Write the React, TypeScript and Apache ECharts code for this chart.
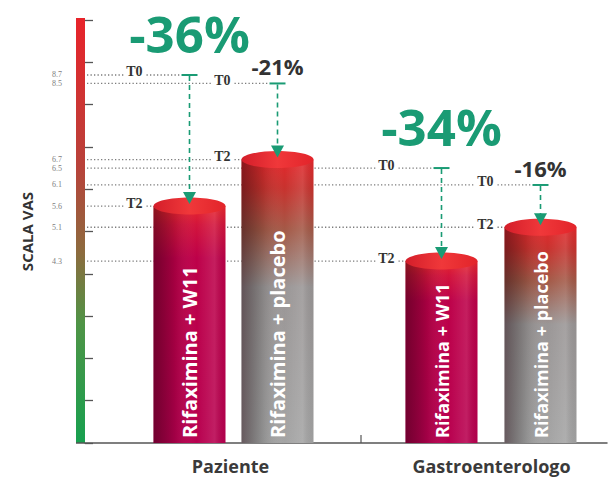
import React, { useEffect, useRef } from 'react';
import * as echarts from 'echarts';

// ---- data ----
const categories = ['Paziente', 'Gastroenterologo'];
const treatments = ['Rifaximina + W11', 'Rifaximina + placebo'];
const t0W11 = [8.7, 6.5];
const t2W11 = [5.6, 4.3];
const t0Placebo = [8.5, 6.1];
const t2Placebo = [6.7, 5.1];
const changeW11 = ['-36%', '-34%'];
const changePlacebo = ['-21%', '-16%'];
const timeLabels = ['T0', 'T2'];
const yMin = 0;
const yMax = 10;
const yInterval = 1;

// ---- layout / style constants ----
const GREEN = '#1a9b74';
const BAR_W = 72;
const SHIFT = 15;
// per category, per treatment horizontal offset of the bar centre from the shifted band centre
const OFFSETS = [
  [-41, 47],
  [-50, 49],
];
const BAR_TEXT_SIZE = [20, 18];
const PCT_SIZE = [51, 22];
const PCT_COLOR = [GREEN, '#333333'];
const PCT_DY = [-42, -17];

const t0s = [t0W11, t0Placebo];
const t2s = [t2W11, t2Placebo];
const changes = [changeW11, changePlacebo];

const lg = (x2: number, y2: number, stops: [number, string][]) =>
  new echarts.graphic.LinearGradient(0, 0, x2, y2, stops.map(([offset, color]) => ({ offset, color })));

const bodyGrad = (tr: number) =>
  tr === 0
    ? lg(0, 1, [[0, '#e8262c'], [0.08, '#d2143c'], [0.22, '#bd0049'], [1, '#b8004f']])
    : lg(0, 1, [[0, '#e3282c'], [0.1, '#c8322e'], [0.25, '#a35a48'], [0.45, '#9a9696'], [1, '#a4a4a4']]);

const shadeGrad = () =>
  lg(1, 0, [
    [0, 'rgba(30,0,10,0.45)'],
    [0.3, 'rgba(0,0,0,0.12)'],
    [0.6, 'rgba(255,255,255,0)'],
    [0.85, 'rgba(255,255,255,0.12)'],
    [1, 'rgba(0,0,0,0.04)'],
  ]);

const topGrad = () => lg(1, 0, [[0, '#d41e2a'], [0.5, '#f0383a'], [1, '#e2242a']]);

// guide data: [cat, value, treatment, kind]
const guideData: number[][] = [];
categories.forEach((_, c) => {
  [0, 1].forEach((tr) => {
    guideData.push([c, t0s[tr][c], tr, 0]);
    guideData.push([c, t2s[tr][c], tr, 1]);
  });
});

const makeCylinder = (tr: number) => (params: any, api: any) => {
  const cat = api.value(0);
  const t2 = api.value(1);
  const t0 = api.value(2);
  const top = api.coord([cat, t2]);
  const base = api.coord([cat, 0]);
  const p0 = api.coord([cat, t0]);
  const cx = top[0] + SHIFT + OFFSETS[cat][tr];
  const left = cx - BAR_W / 2;
  const yTop = top[1];
  const yBase = base[1];
  const yT0 = p0[1];
  return {
    type: 'group',
    children: [
      { type: 'rect', shape: { x: left, y: yTop, width: BAR_W, height: yBase - yTop }, style: { fill: bodyGrad(tr) } },
      { type: 'rect', shape: { x: left, y: yTop, width: BAR_W, height: yBase - yTop }, style: { fill: shadeGrad() } },
      { type: 'ellipse', shape: { cx, cy: yTop, rx: BAR_W / 2, ry: 8.5 }, style: { fill: topGrad() } },
      {
        type: 'text',
        x: cx,
        y: yBase - 5,
        rotation: Math.PI / 2,
        style: {
          text: treatments[tr],
          fill: '#ffffff',
          fontSize: BAR_TEXT_SIZE[cat],
          fontWeight: 'bold',
          fontFamily: '"Open Sans"',
          align: 'left',
          verticalAlign: 'middle',
        },
      },
      {
        type: 'line',
        shape: { x1: cx, y1: yT0 + 1, x2: cx, y2: yTop - 13 },
        style: { stroke: GREEN, lineWidth: 1.6, lineDash: [5, 4] },
      },
      {
        type: 'line',
        shape: { x1: cx - 8, y1: yT0, x2: cx + 8, y2: yT0 },
        style: { stroke: GREEN, lineWidth: 2 },
      },
      {
        type: 'polygon',
        shape: { points: [[cx - 6.5, yTop - 14], [cx + 6.5, yTop - 14], [cx, yTop - 2]] },
        style: { fill: GREEN },
      },
      {
        type: 'text',
        x: cx,
        y: yT0 + PCT_DY[tr],
        style: {
          text: changes[tr][cat],
          fill: PCT_COLOR[tr],
          fontSize: PCT_SIZE[tr],
          lineHeight: Math.round(PCT_SIZE[tr] * 0.8),
          fontWeight: 'bold',
          fontFamily: '"Open Sans"',
          align: 'center',
          verticalAlign: 'middle',
        },
      },
    ],
  };
};

const renderGuide = (params: any, api: any) => {
  const cat = api.value(0);
  const v = api.value(1);
  const tr = api.value(2);
  const kind = api.value(3);
  const p = api.coord([cat, v]);
  const cx = p[0] + SHIFT + OFFSETS[cat][tr];
  const left = cx - BAR_W / 2;
  const y = p[1];
  const axisX = params.coordSys.x;
  const ls = { stroke: '#7c7c7c', lineWidth: 1.3, lineDash: [1.3, 2.2] };
  const labelRight = left - 11;
  return {
    type: 'group',
    children: [
      { type: 'line', shape: { x1: axisX + 2, y1: y, x2: labelRight - 19, y2: y }, style: ls },
      { type: 'line', shape: { x1: labelRight + 4, y1: y, x2: kind === 0 ? cx - 9 : left, y2: y }, style: ls },
      {
        type: 'text',
        x: labelRight,
        y: y - 3,
        style: {
          text: timeLabels[kind],
          align: 'right',
          verticalAlign: 'middle',
          fontSize: 14,
          lineHeight: 11,
          fontWeight: 'bold',
          fontFamily: '"Liberation Serif"',
          fill: '#333333',
        },
      },
      {
        type: 'text',
        x: axisX - 23,
        y,
        style: {
          text: v.toFixed(1),
          align: 'right',
          verticalAlign: 'middle',
          fontSize: 8,
          fontFamily: '"Liberation Serif"',
          fill: '#808080',
        },
      },
    ],
  };
};

const renderAxisBar = (params: any, api: any) => {
  const cs = params.coordSys;
  const yT = api.coord([0, yMax])[1];
  const yB = api.coord([0, yMin])[1];
  const mid = (api.coord([0, yMin])[0] + api.coord([1, yMin])[0]) / 2 + SHIFT;
  return {
    type: 'group',
    children: [
      {
        type: 'rect',
        shape: { x: cs.x - 9, y: yT - 2, width: 9, height: yB - yT + 2 },
        style: {
          fill: lg(0, 1, [
            [0, '#e8232a'],
            [0.35, '#b8423a'],
            [0.55, '#8d6b3e'],
            [0.72, '#4f9446'],
            [1, '#17a04f'],
          ]),
        },
      },
      { type: 'line', shape: { x1: cs.x - 9, y1: yB, x2: cs.x, y2: yB }, style: { stroke: '#555555', lineWidth: 1.5 } },
      { type: 'line', shape: { x1: mid, y1: yB, x2: mid, y2: yB - 8 }, style: { stroke: '#555555', lineWidth: 1.2 } },
    ],
  };
};

export default function App() {
  const ref = useRef<HTMLDivElement>(null);
  useEffect(() => {
    if (!ref.current) return;
    const chart = echarts.init(ref.current, undefined, { renderer: 'svg' });
    chart.setOption({
      animation: false,
      backgroundColor: '#ffffff',
      grid: { left: 85, right: 5, top: 20, bottom: 45 },
      xAxis: {
        type: 'category',
        data: categories,
        axisLine: { lineStyle: { color: '#555555', width: 1.5 } },
        axisTick: { show: false },
        axisLabel: {
          fontSize: 18,
          fontWeight: 'bold',
          color: '#3a3a3a',
          fontFamily: '"Open Sans"',
          margin: 14,
          padding: [0, 0, 0, 30],
        },
      },
      yAxis: {
        type: 'value',
        min: yMin,
        max: yMax,
        interval: yInterval,
        name: 'SCALA VAS',
        nameLocation: 'middle',
        nameGap: 51,
        nameRotate: 90,
        nameTextStyle: { fontSize: 15, fontWeight: 'bold', color: '#333333', fontFamily: '"Open Sans"' },
        axisLine: { show: false },
        axisTick: { show: true, inside: true, length: 8, lineStyle: { color: '#555555', width: 1.3 } },
        axisLabel: { show: false },
        splitLine: { show: false },
      },
      series: [
        { type: 'custom', name: 'axis', data: [[0, 0]], renderItem: renderAxisBar, silent: true, z: 1 },
        { type: 'custom', name: 'guides', data: guideData, encode: { x: 0, y: 1 }, renderItem: renderGuide, silent: true, z: 2 },
        {
          type: 'custom',
          name: treatments[0],
          data: categories.map((_, i) => [i, t2W11[i], t0W11[i]]),
          encode: { x: 0, y: 1 },
          renderItem: makeCylinder(0),
          z: 3,
        },
        {
          type: 'custom',
          name: treatments[1],
          data: categories.map((_, i) => [i, t2Placebo[i], t0Placebo[i]]),
          encode: { x: 0, y: 1 },
          renderItem: makeCylinder(1),
          z: 3,
        },
      ],
    });
    return () => chart.dispose();
  }, []);
  return <div ref={ref} style={{ position: 'fixed', left: 0, top: 0, width: 612, height: 488 }} />;
}
